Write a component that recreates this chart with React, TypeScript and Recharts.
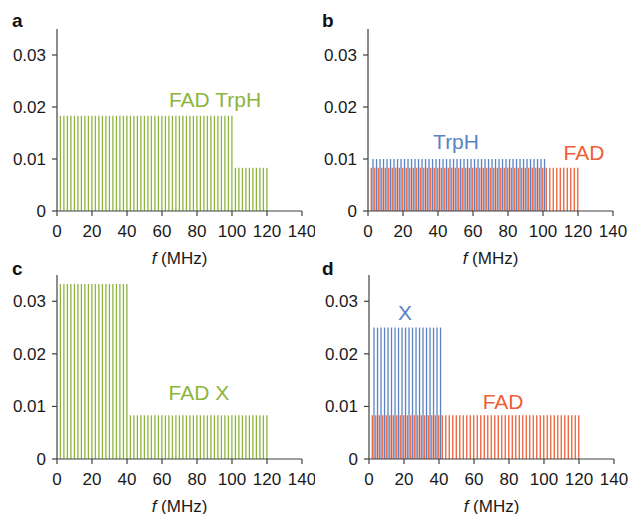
import { BarChart, Bar, XAxis, YAxis, ReferenceDot, Label } from 'recharts';

// stick spectra, line positions in MHz
const F_EVEN = [
  2, 4, 6, 8, 10, 12, 14, 16, 18, 20, 22, 24, 26, 28, 30, 32, 34, 36, 38, 40,
  42, 44, 46, 48, 50, 52, 54, 56, 58, 60, 62, 64, 66, 68, 70, 72, 74, 76, 78, 80,
  82, 84, 86, 88, 90, 92, 94, 96, 98, 100, 102, 104, 106, 108, 110, 112, 114, 116, 118, 120,
];
const F_TRPH = [
  3, 5, 7, 9, 11, 13, 15, 17, 19, 21, 23, 25, 27, 29, 31, 33, 35, 37, 39, 41,
  43, 45, 47, 49, 51, 53, 55, 57, 59, 61, 63, 65, 67, 69, 71, 73, 75, 77, 79, 81,
  83, 85, 87, 89, 91, 93, 95, 97, 99, 101,
];
const F_X = [3, 5, 7, 9, 11, 13, 15, 17, 19, 21, 23, 25, 27, 29, 31, 33, 35, 37, 39, 41];

// amplitudes
const A_FAD_TRPH = [
  0.0183, 0.0183, 0.0183, 0.0183, 0.0183, 0.0183, 0.0183, 0.0183, 0.0183, 0.0183,
  0.0183, 0.0183, 0.0183, 0.0183, 0.0183, 0.0183, 0.0183, 0.0183, 0.0183, 0.0183,
  0.0183, 0.0183, 0.0183, 0.0183, 0.0183, 0.0183, 0.0183, 0.0183, 0.0183, 0.0183,
  0.0183, 0.0183, 0.0183, 0.0183, 0.0183, 0.0183, 0.0183, 0.0183, 0.0183, 0.0183,
  0.0183, 0.0183, 0.0183, 0.0183, 0.0183, 0.0183, 0.0183, 0.0183, 0.0183, 0.0183,
  0.0083, 0.0083, 0.0083, 0.0083, 0.0083, 0.0083, 0.0083, 0.0083, 0.0083, 0.0083,
];
const A_FAD_X = [
  0.0333, 0.0333, 0.0333, 0.0333, 0.0333, 0.0333, 0.0333, 0.0333, 0.0333, 0.0333,
  0.0333, 0.0333, 0.0333, 0.0333, 0.0333, 0.0333, 0.0333, 0.0333, 0.0333, 0.0333,
  0.0083, 0.0083, 0.0083, 0.0083, 0.0083, 0.0083, 0.0083, 0.0083, 0.0083, 0.0083,
  0.0083, 0.0083, 0.0083, 0.0083, 0.0083, 0.0083, 0.0083, 0.0083, 0.0083, 0.0083,
  0.0083, 0.0083, 0.0083, 0.0083, 0.0083, 0.0083, 0.0083, 0.0083, 0.0083, 0.0083,
  0.0083, 0.0083, 0.0083, 0.0083, 0.0083, 0.0083, 0.0083, 0.0083, 0.0083, 0.0083,
];
const A_FAD = [
  0.0083, 0.0083, 0.0083, 0.0083, 0.0083, 0.0083, 0.0083, 0.0083, 0.0083, 0.0083,
  0.0083, 0.0083, 0.0083, 0.0083, 0.0083, 0.0083, 0.0083, 0.0083, 0.0083, 0.0083,
  0.0083, 0.0083, 0.0083, 0.0083, 0.0083, 0.0083, 0.0083, 0.0083, 0.0083, 0.0083,
  0.0083, 0.0083, 0.0083, 0.0083, 0.0083, 0.0083, 0.0083, 0.0083, 0.0083, 0.0083,
  0.0083, 0.0083, 0.0083, 0.0083, 0.0083, 0.0083, 0.0083, 0.0083, 0.0083, 0.0083,
  0.0083, 0.0083, 0.0083, 0.0083, 0.0083, 0.0083, 0.0083, 0.0083, 0.0083, 0.0083,
];
const A_TRPH = [
  0.01, 0.01, 0.01, 0.01, 0.01, 0.01, 0.01, 0.01, 0.01, 0.01,
  0.01, 0.01, 0.01, 0.01, 0.01, 0.01, 0.01, 0.01, 0.01, 0.01,
  0.01, 0.01, 0.01, 0.01, 0.01, 0.01, 0.01, 0.01, 0.01, 0.01,
  0.01, 0.01, 0.01, 0.01, 0.01, 0.01, 0.01, 0.01, 0.01, 0.01,
  0.01, 0.01, 0.01, 0.01, 0.01, 0.01, 0.01, 0.01, 0.01, 0.01,
];
const A_X = [
  0.025, 0.025, 0.025, 0.025, 0.025, 0.025, 0.025, 0.025, 0.025, 0.025,
  0.025, 0.025, 0.025, 0.025, 0.025, 0.025, 0.025, 0.025, 0.025, 0.025,
];

const X_TICKS = [0, 20, 40, 60, 80, 100, 120, 140];
const Y_TICKS = [0, 0.01, 0.02, 0.03];

const GREEN = '#8db53e';
const BLUE = '#5b82c3';
const ORANGE = '#ef5e36';
const AXIS = '#404040';
const FONT = '"Liberation Sans", Arial, sans-serif';

type Row = { f: number; a?: number | null; b?: number | null };

// merge two combs into one table; each row holds one of the two series
function merge(fa: number[], aa: number[], fb: number[], ab: number[]): Row[] {
  const rows: Row[] = [
    ...fa.map((f, i) => ({ f, a: aa[i], b: null })),
    ...fb.map((f, i) => ({ f, a: null, b: ab[i] })),
  ];
  return rows.sort((p, q) => p.f - q.f);
}

const single = (fs: number[], as: number[]): Row[] => fs.map((f, i) => ({ f, a: as[i] }));

interface Note {
  x: number;
  y: number;
  text: string;
  color: string;
}

interface PanelProps {
  left: number;
  top: number;
  height: number;
  margin: { top: number; right: number; left: number; bottom: number };
  xAxisHeight: number;
  rows: Row[];
  colorA: string;
  colorB?: string;
  notes: Note[];
}

function AxisTitle(props: any) {
  const vb = props.viewBox || {};
  return (
    <text
      x={vb.x + vb.width / 2}
      y={vb.y + 47}
      textAnchor="middle"
      dominantBaseline="central"
      fontSize={17}
      fontFamily={FONT}
      fill="#1a1a1a"
    >
      <tspan fontStyle="italic">f</tspan>
      <tspan> (MHz)</tspan>
    </text>
  );
}

function Panel({ left, top, height, margin, xAxisHeight, rows, colorA, colorB, notes }: PanelProps) {
  const tick = { fontSize: 17, fill: '#1a1a1a', fontFamily: FONT };
  return (
    <div style={{ position: 'absolute', left, top }}>
      <BarChart width={315} height={height} data={rows} margin={margin} barGap={0} barCategoryGap={0}>
        <XAxis
          type="number"
          dataKey="f"
          domain={[0, 140]}
          ticks={X_TICKS}
          interval={0}
          height={xAxisHeight}
          tick={tick}
          tickSize={5}
          tickMargin={9}
          stroke={AXIS}
          strokeWidth={1.2}
          tickLine={{ stroke: AXIS }}
        >
          <Label content={<AxisTitle />} />
        </XAxis>
        <YAxis
          type="number"
          domain={[0, 0.035]}
          ticks={Y_TICKS}
          interval={0}
          width={47}
          tick={tick}
          tickSize={5}
          tickMargin={6}
          stroke={AXIS}
          strokeWidth={1.2}
          tickLine={{ stroke: AXIS }}
          tickFormatter={(v: number) => (v === 0 ? '0' : v.toFixed(2))}
          allowDataOverflow
        />
        {colorB && (
          <Bar dataKey="b" stackId="s" fill={colorB} barSize={1.3} isAnimationActive={false} />
        )}
        <Bar dataKey="a" stackId="s" fill={colorA} barSize={1.3} isAnimationActive={false} />
        {notes.map((n) => (
          <ReferenceDot
            key={n.text}
            x={n.x}
            y={n.y}
            r={0}
            stroke="none"
            fill="none"
            ifOverflow="visible"
            label={{ value: n.text, position: 'center', fill: n.color, fontSize: 21, fontFamily: FONT }}
          />
        ))}
      </BarChart>
    </div>
  );
}

const PANEL_LETTERS = [
  { t: 'a', x: 12, y: 27 },
  { t: 'b', x: 322, y: 27 },
  { t: 'c', x: 12, y: 275 },
  { t: 'd', x: 322, y: 275 },
];

export default function App() {
  return (
    <div style={{ position: 'absolute', left: 0, top: 0, width: 630, height: 514, background: '#fff' }}>
      <Panel
        left={0}
        top={0}
        height={272}
        margin={{ top: 29, right: 13, left: 10, bottom: 15 }}
        xAxisHeight={46}
        rows={single(F_EVEN, A_FAD_TRPH)}
        colorA={GREEN}
        notes={[{ x: 90.3, y: 0.0215, text: 'FAD TrpH', color: GREEN }]}
      />
      <Panel
        left={315}
        top={0}
        height={272}
        margin={{ top: 29, right: 17, left: 6, bottom: 15 }}
        xAxisHeight={46}
        rows={merge(F_EVEN, A_FAD, F_TRPH, A_TRPH)}
        colorA={ORANGE}
        colorB={BLUE}
        notes={[
          { x: 50.3, y: 0.0133, text: 'TrpH', color: BLUE },
          { x: 123.4, y: 0.0112, text: 'FAD', color: ORANGE },
        ]}
      />
      <Panel
        left={0}
        top={257}
        height={257}
        margin={{ top: 18, right: 13, left: 10, bottom: 0 }}
        xAxisHeight={55}
        rows={single(F_EVEN, A_FAD_X)}
        colorA={GREEN}
        notes={[{ x: 81.1, y: 0.0126, text: 'FAD X', color: GREEN }]}
      />
      <Panel
        left={315}
        top={257}
        height={257}
        margin={{ top: 18, right: 16, left: 7, bottom: 0 }}
        xAxisHeight={55}
        rows={merge(F_EVEN, A_FAD, F_X, A_X)}
        colorA={ORANGE}
        colorB={BLUE}
        notes={[
          { x: 20.6, y: 0.0278, text: 'X', color: BLUE },
          { x: 76.6, y: 0.0109, text: 'FAD', color: ORANGE },
        ]}
      />
      <svg width={630} height={514} style={{ position: 'absolute', left: 0, top: 0, pointerEvents: 'none' }}>
        {PANEL_LETTERS.map((p) => (
          <text key={p.t} x={p.x} y={p.y} fontSize={19} fontWeight="bold" fontFamily={FONT} fill="#111">
            {p.t}
          </text>
        ))}
      </svg>
    </div>
  );
}
